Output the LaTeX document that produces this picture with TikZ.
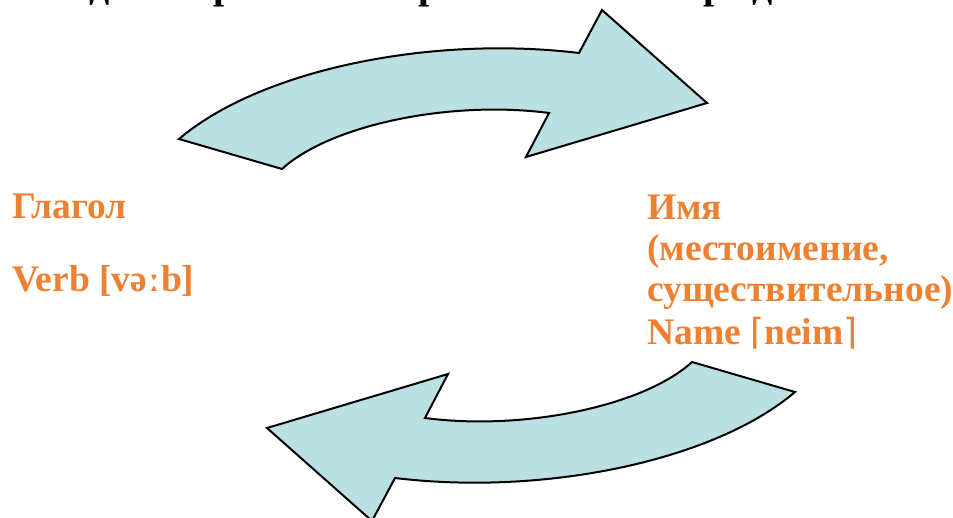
\documentclass[tikz,border=0pt]{standalone}
\usepackage{fontspec}
\setmainfont{Liberation Serif}
\newfontfamily\ipafont{DejaVu Sans}
\newfontfamily\ipaserif{DejaVu Serif}
\definecolor{arrowfill}{RGB}{186,224,227}
\definecolor{labelorange}{RGB}{238,128,50}
\tikzset{
  bigarrow/.style={fill=arrowfill, draw=black, line width=2pt, line join=miter},
  lbl/.style={anchor=base west, inner sep=0pt, text=labelorange, font=\fontsize{37.5}{40}\selectfont\bfseries},
  frag/.style={anchor=base west, inner sep=0pt, text=black, font=\fontsize{40}{42}\selectfont\bfseries}
}
\begin{document}
\begin{tikzpicture}[x=1pt,y=-1pt]
\useasboundingbox (0,0) rectangle (953,518);
\clip (0,0) rectangle (953,518);
% cut-off title fragments (only descenders visible)
\node[frag] (t1) at (89,-1) {д};
\node[frag] (t2) at (213,-1) {р};
\node[frag] (t3) at (418,-1) {р};
\node[frag] (t4) at (703,-1) {р};
\node[frag] (t5) at (752,-1) {д};
% top arrow
\draw[bigarrow] (179,139) .. controls (260,70) and (430,35) .. (579,53) -- (602,10) -- (707,103) -- (526,157) -- (549,113) .. controls (450,100) and (330,125) .. (282,169) -- cycle;
% bottom arrow (point reflection of the top one)
\begin{scope}[rotate around={180:(487,265.5)}]
\draw[bigarrow] (179,139) .. controls (260,70) and (430,35) .. (579,53) -- (602,10) -- (707,103) -- (526,157) -- (549,113) .. controls (450,100) and (330,125) .. (282,169) -- cycle;
\end{scope}
% labels
\node[lbl] (glagol) at (12,219) {Глагол};
\node[lbl] (verb) at (12,292) {Verb [və{\ipaserif ː}b]};
\node[lbl] (imya) at (647,220) {Имя};
\node[lbl] (mest) at (647,261) {(местоимение,};
\node[lbl] (sush) at (647,302) {существительное)};
\node[lbl] (name) at (647,345) {Name {\ipafont\mdseries\fontsize{36}{38}\selectfont ⌈}neim{\ipafont\mdseries\fontsize{36}{38}\selectfont ⌉}};
\end{tikzpicture}
\end{document}
